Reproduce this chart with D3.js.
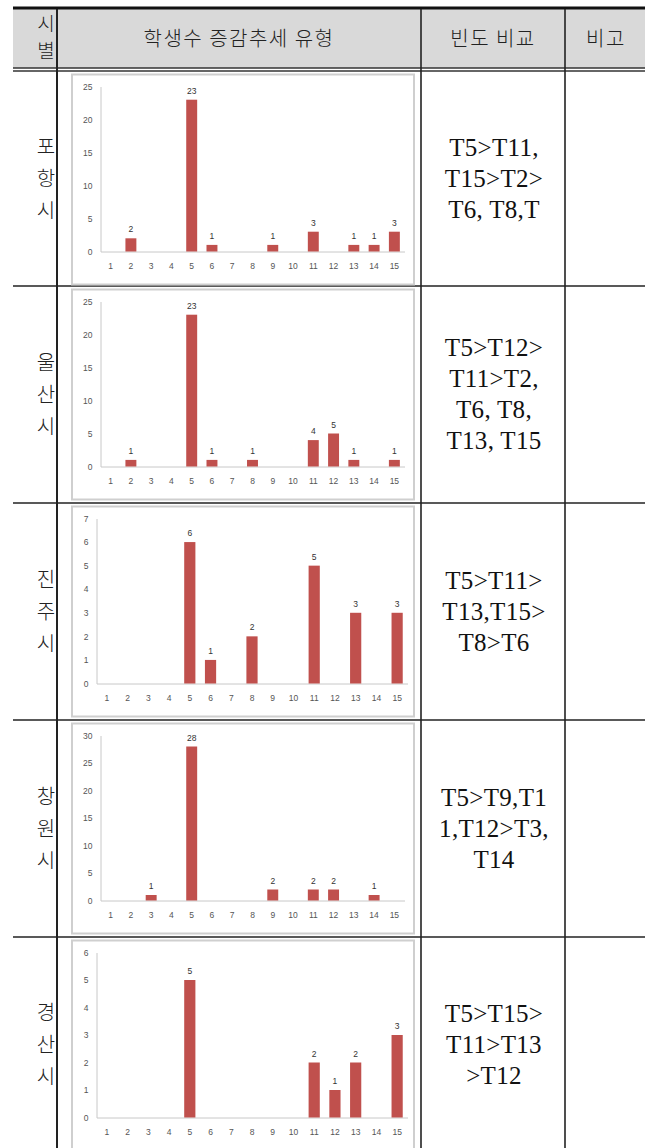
<!DOCTYPE html>
<html>
<head>
<meta charset="utf-8">
<script src="https://cdn.jsdelivr.net/npm/d3@7/dist/d3.min.js"></script>
<style>
  body { margin: 0; background: #fff; }
  svg { display: block; }
</style>
</head>
<body>
<svg id="table"></svg>
<script>
// Data
const typeLabels = ["1", "2", "3", "4", "5", "6", "7", "8", "9", "10", "11", "12", "13", "14", "15"];
const cityNames = ["포항시", "울산시", "진주시", "창원시", "경산시"];
const pohangCounts    = [0, 2, 0, 0, 23, 1, 0, 0, 1, 0, 3, 0, 1, 1, 3];
const ulsanCounts     = [0, 1, 0, 0, 23, 1, 0, 1, 0, 0, 4, 5, 1, 0, 1];
const jinjuCounts     = [0, 0, 0, 0, 6, 1, 0, 2, 0, 0, 5, 0, 3, 0, 3];
const changwonCounts  = [0, 0, 1, 0, 28, 0, 0, 0, 2, 0, 2, 2, 0, 1, 0];
const gyeongsanCounts = [0, 0, 0, 0, 5, 0, 0, 0, 0, 0, 2, 1, 2, 0, 3];
const yMaxes = [25, 25, 7, 30, 6];
const yTickValues = [
  [0, 5, 10, 15, 20, 25],
  [0, 5, 10, 15, 20, 25],
  [0, 1, 2, 3, 4, 5, 6, 7],
  [0, 5, 10, 15, 20, 25, 30],
  [0, 1, 2, 3, 4, 5, 6]
];
const compareLines = [
  ["T5>T11,", "T15>T2>", "T6,  T8,T"],
  ["T5>T12>", "T11>T2,", "T6,  T8,", "T13,  T15"],
  ["T5>T11>", "T13,T15>", "T8>T6"],
  ["T5>T9,T1", "1,T12>T3,", "T14"],
  ["T5>T15>", "T11>T13", ">T12"]
];
const headerLabels = ["학생수 증감추세 유형", "빈도 비교", "비고"];

const allCounts = [pohangCounts, ulsanCounts, jinjuCounts, changwonCounts, gyeongsanCounts];

const W = 645, H = 1148;
const svg = d3.select("#table").attr("width", W).attr("height", H);

// Table geometry
const tableLeft = 13;
const col1 = 57, col2 = 421, col3 = 565;
const headTop = 9, headBottom = 68;
const rowSeps = [71, 286, 503, 720, 937, 1160];

const korFont = "Noto Sans CJK KR, sans-serif";
const serifFont = "Liberation Serif, Times New Roman, Times, DejaVu Serif, serif";
const chartFont = "Liberation Sans, Arial, sans-serif";

// Header background
svg.append("rect")
  .attr("x", tableLeft).attr("y", headTop)
  .attr("width", W - tableLeft).attr("height", headBottom - headTop)
  .attr("fill", "#d9d9d9");

// Header text
["시", "별"].forEach((ch, k) => {
  svg.append("text")
    .attr("x", 46).attr("y", 31 + k * 27)
    .attr("text-anchor", "middle")
    .attr("font-family", korFont).attr("font-size", 19).attr("font-weight", 300)
    .attr("fill", "#222").text(ch);
});

const headerCenters = [(col1 + col2) / 2, (col2 + col3) / 2, (col3 + W) / 2 + 1];
headerLabels.forEach((t, i) => {
  svg.append("text")
    .attr("x", headerCenters[i]).attr("y", 46)
    .attr("text-anchor", "middle")
    .attr("font-family", korFont).attr("font-size", 20).attr("font-weight", 300)
    .attr("letter-spacing", 1.5)
    .attr("fill", "#222").text(t);
});

// Table lines
svg.append("line")
  .attr("x1", tableLeft).attr("x2", W).attr("y1", 8).attr("y2", 8)
  .attr("stroke", "#111").attr("stroke-width", 3);
[headBottom, 71].forEach(y => {
  svg.append("line")
    .attr("x1", tableLeft).attr("x2", W).attr("y1", y).attr("y2", y)
    .attr("stroke", "#333").attr("stroke-width", 1.3);
});
rowSeps.slice(1, 5).forEach(y => {
  svg.append("line")
    .attr("x1", tableLeft).attr("x2", W).attr("y1", y).attr("y2", y)
    .attr("stroke", "#222").attr("stroke-width", 1.5);
});
[col1, col2, col3].forEach(x => {
  svg.append("line")
    .attr("x1", x).attr("x2", x).attr("y1", 9).attr("y2", H)
    .attr("stroke", "#222").attr("stroke-width", x === col1 ? 2 : 1.6);
});

// One row per city
cityNames.forEach((city, i) => {
  const top = rowSeps[i], bottom = i === 4 ? 1152 : rowSeps[i + 1];
  const mid = (top + bottom) / 2;

  // city name, written top to bottom
  Array.from(city).forEach((ch, k) => {
    svg.append("text")
      .attr("x", 46).attr("y", mid + (k - 1) * 32 + 7)
      .attr("text-anchor", "middle")
      .attr("font-family", korFont).attr("font-size", 20).attr("font-weight", 300)
      .attr("fill", "#222").text(ch);
  });

  // frequency comparison text
  const lines = compareLines[i];
  lines.forEach((ln, k) => {
    svg.append("text")
      .attr("x", (col2 + col3) / 2 + 1)
      .attr("y", mid + (k - (lines.length - 1) / 2) * 31 + 8)
      .attr("text-anchor", "middle")
      .attr("font-family", serifFont).attr("font-size", 25)
      .attr("letter-spacing", 0.3)
      .attr("fill", "#111").text(ln);
  });

  drawChart(i, top + 3.5);
});

function drawChart(i, boxY) {
  const boxX = 72, boxW = 342, boxH = 210;
  const counts = allCounts[i];
  const twoDigit = yMaxes[i] >= 10;

  const g = svg.append("g");
  g.append("rect")
    .attr("x", boxX).attr("y", boxY)
    .attr("width", boxW).attr("height", Math.min(boxH, H - boxY + 2))
    .attr("fill", "#fff")
    .attr("stroke", "#cfcfcf").attr("stroke-width", 2);

  const left = boxX + (twoDigit ? 28.5 : 24.5);
  const right = left + (twoDigit ? 304 : 311);
  const plotTop = boxY + 12, zeroY = boxY + 177;

  const x = d3.scaleBand()
    .domain(typeLabels)
    .range([left, right])
    .paddingInner(0.46)
    .paddingOuter(0.23);

  const y = d3.scaleLinear()
    .domain([0, yMaxes[i]])
    .range([zeroY, plotTop]);

  const yAxis = g.append("g")
    .attr("transform", `translate(${left},0)`)
    .call(d3.axisLeft(y).tickValues(yTickValues[i]).tickFormat(d3.format("d"))
      .tickSize(0).tickPadding(8));
  const xAxis = g.append("g")
    .attr("transform", `translate(0,${zeroY})`)
    .call(d3.axisBottom(x).tickSize(0).tickPadding(11));

  [yAxis, xAxis].forEach(ax => {
    ax.attr("font-family", chartFont).attr("font-size", 8.5);
    ax.select(".domain").attr("stroke", "#c8c8c8").attr("stroke-width", 1);
    ax.selectAll("text").attr("fill", "#555");
  });

  const data = typeLabels.map((t, k) => ({ type: t, value: counts[k] }));

  g.selectAll(".bar")
    .data(data.filter(d => d.value > 0))
    .enter()
    .append("rect")
    .attr("class", "bar")
    .attr("x", d => x(d.type))
    .attr("y", d => y(d.value))
    .attr("width", x.bandwidth())
    .attr("height", d => zeroY - y(d.value))
    .attr("fill", "#c0504d");

  g.selectAll(".value-label")
    .data(data.filter(d => d.value > 0))
    .enter()
    .append("text")
    .attr("class", "value-label")
    .attr("x", d => x(d.type) + x.bandwidth() / 2)
    .attr("y", d => y(d.value) - 6)
    .attr("text-anchor", "middle")
    .attr("font-family", chartFont).attr("font-size", 8.5)
    .attr("fill", "#333")
    .text(d => d.value);
}
</script>
</body>
</html>
